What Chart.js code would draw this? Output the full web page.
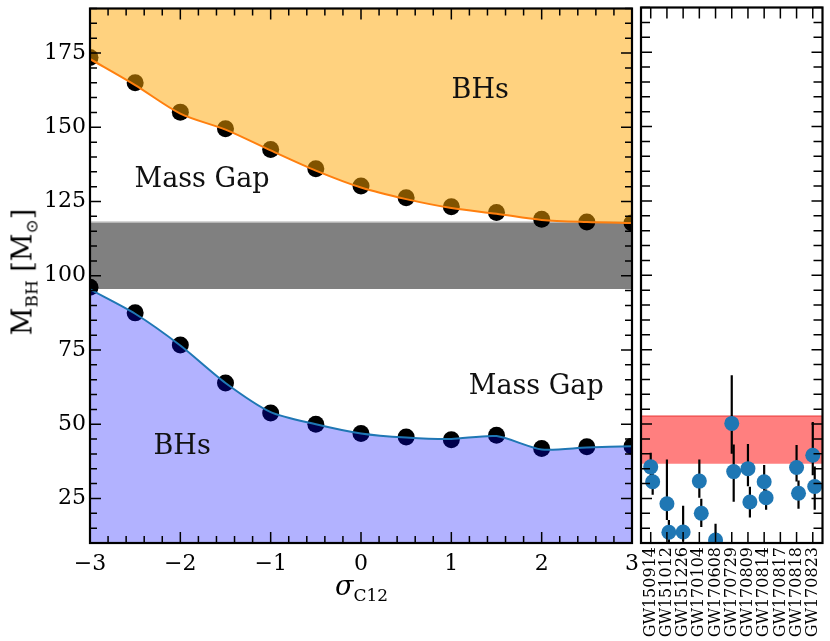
<!DOCTYPE html>
<html>
<head>
<meta charset="utf-8">
<script src="https://cdn.jsdelivr.net/npm/chart.js@4.4.1/dist/chart.umd.min.js"></script>
<style>
  html, body { margin: 0; padding: 0; background: #fff; }
  #wrap { position: relative; width: 830px; height: 641px; overflow: hidden; font-family: 'DejaVu Serif', serif; }
  .box { position: absolute; top: 0; height: 641px; }
  #leftBox { left: 0; width: 641px; }
  #rightBox { left: 632px; width: 198px; }
  .xtitle { position: absolute; left: 335px; top: 572px; font: italic 27px 'DejaVu Serif', serif; line-height: 1; white-space: nowrap; }
  .xtitle span { font-style: normal; font-size: 17px; position: relative; top: 6px; }
  .ytitle { position: absolute; left: 22px; top: 272px; font: 27px 'DejaVu Serif', serif; line-height: 1; white-space: nowrap;
            transform: translate(-50%, -50%) rotate(-90deg); }
  .ytitle sub { font-size: 17px; vertical-align: baseline; position: relative; top: 6px; }
</style>
</head>
<body>
<div id="wrap">
  <div class="box" id="leftBox"><canvas id="massChart"></canvas></div>
  <div class="box" id="rightBox"><canvas id="gwChart"></canvas></div>
  <div class="xtitle">σ<span>C12</span></div>
  <div class="ytitle">M<sub>BH</sub> [M<sub>⊙</sub>]</div>
</div>
<script>
// sigma_C12 grid and the edges of the mass gap
const sigma = [-3, -2.5, -2, -1.5, -1, -0.5, 0, 0.5, 1, 1.5, 2, 2.5, 3];
const upperMass = [173.5, 165.0, 155.1, 149.5, 142.5, 136.0, 130.2, 126.3, 123.2, 121.3, 119.0, 118.1, 117.8];
const upperFit  = [173.0, 164.2, 154.6, 149.2, 142.2, 135.4, 129.7, 125.8, 122.8, 120.9, 118.8, 118.1, 117.8];
const lowerMass = [96.1, 87.5, 76.7, 63.9, 53.8, 50.0, 46.9, 45.7, 44.8, 46.3, 41.8, 42.4, 42.6];
const lowerFit  = [95.4, 87.2, 76.5, 63.9, 54.1, 50.0, 46.9, 45.5, 45.0, 46.0, 41.5, 42.2, 42.6];
const gapBand = [95.5, 118.1];
const sigmaRange = [-3, 3];
const massRange = [10, 190];

// region labels (text, sigma, mass at baseline)
const noteText = ['BHs', 'Mass Gap', 'Mass Gap', 'BHs'];
const noteX = [1.32, -1.76, 1.94, -1.98];
const noteY = [159.8, 129.9, 60.3, 39.9];

// LIGO/Virgo O1+O2 events
const events = ['GW150914', 'GW151012', 'GW151226', 'GW170104', 'GW170608', 'GW170729',
                'GW170809', 'GW170814', 'GW170817', 'GW170818', 'GW170823'];
const m1      = [35.6, 23.2, 13.7, 30.8, 11.0, 50.2, 35.0, 30.6, 1.46, 35.4, 39.5];
const m1Plus  = [4.7, 14.9, 8.8, 7.3, 5.5, 16.2, 8.3, 5.6, 0.12, 7.5, 11.2];
const m1Minus = [3.1, 5.5, 3.2, 5.6, 1.7, 10.2, 5.9, 3.0, 0.10, 4.7, 6.7];
const m2      = [30.6, 13.6, 7.7, 20.0, 7.6, 34.0, 23.8, 25.2, 1.27, 26.7, 29.0];
const m2Plus  = [3.0, 4.1, 2.2, 4.9, 1.4, 9.1, 5.1, 2.8, 0.09, 4.3, 6.7];
const m2Minus = [4.4, 4.8, 2.5, 4.6, 2.2, 10.1, 5.2, 4.0, 0.09, 5.2, 7.8];
const m2Shift = 0.12;
const ligoBand = [36.6, 52.7];
const eventRange = [-0.6, 10.6];

Chart.defaults.font.family = "'DejaVu Serif', serif";
Chart.defaults.color = '#000';

const xy = (xs, ys) => xs.map((x, i) => ({ x: x, y: ys[i] }));

function errorBars(vals, plus, minus, shift) {
    const out = [];
    vals.forEach((v, i) => {
        out.push({ x: i + shift, y: v - minus[i] }, { x: i + shift, y: v + plus[i] }, { x: i + shift, y: null });
    });
    return out;
}

// inward ticks on all four sides plus the black frame
const frameTicks = {
    id: 'frameTicks',
    afterDraw(chart, args, o) {
        const { ctx, chartArea: a, scales: { x, y } } = chart;
        ctx.save();
        ctx.strokeStyle = '#000';
        ctx.lineWidth = 1.5;
        ctx.beginPath();
        for (let k = Math.ceil(x.min / o.xMinor - 1e-9); k * o.xMinor <= x.max + 1e-9; k++) {
            const v = k * o.xMinor;
            const major = Math.abs(v / o.xMajor - Math.round(v / o.xMajor)) < 1e-6;
            const len = major ? o.majorLen : o.minorLen;
            const px = x.getPixelForValue(v);
            ctx.moveTo(px, a.bottom); ctx.lineTo(px, a.bottom - len);
            ctx.moveTo(px, a.top); ctx.lineTo(px, a.top + len);
        }
        for (let k = Math.ceil(y.min / o.yMinor - 1e-9); k * o.yMinor <= y.max + 1e-9; k++) {
            const v = k * o.yMinor;
            const major = Math.abs(v / o.yMajor - Math.round(v / o.yMajor)) < 1e-6;
            const len = major ? o.majorLen : o.minorLen;
            const py = y.getPixelForValue(v);
            ctx.moveTo(a.left, py); ctx.lineTo(a.left + len, py);
            ctx.moveTo(a.right, py); ctx.lineTo(a.right - len, py);
        }
        ctx.stroke();
        ctx.lineWidth = 2.2;
        ctx.strokeRect(a.left, a.top, a.width, a.height);
        ctx.restore();
    }
};

const regionNotes = {
    id: 'regionNotes',
    afterDatasetsDraw(chart, args, o) {
        if (!o.text) return;
        const { ctx, scales: { x, y } } = chart;
        ctx.save();
        ctx.font = "27px 'DejaVu Serif', serif";
        ctx.fillStyle = '#111';
        ctx.textAlign = 'center';
        ctx.textBaseline = 'alphabetic';
        o.text.forEach((t, i) => ctx.fillText(t, x.getPixelForValue(o.x[i]), y.getPixelForValue(o.y[i])));
        ctx.restore();
    }
};

const tickFont = { size: 22 };

// keep the plot area exactly where the reference has it
const noEdgePad = s => { s.paddingLeft = 0; s.paddingRight = 0; s.paddingTop = 0; s.paddingBottom = 0; };

new Chart(document.getElementById('massChart'), {
    type: 'line',
    data: {
        datasets: [
            { data: xy(sigmaRange, [gapBand[0], gapBand[0]]), borderWidth: 0, pointRadius: 0, fill: false, order: 6 },
            { data: xy(sigmaRange, [gapBand[1], gapBand[1]]), borderColor: '#c8c8c8', borderWidth: 1.5, pointRadius: 0,
              backgroundColor: '#808080', fill: '-1', order: 5 },
            { data: xy(sigma, upperMass), showLine: false, pointRadius: 8.5, pointBackgroundColor: '#000',
              pointBorderWidth: 0, order: 4 },
            { data: xy(sigma, lowerMass), showLine: false, pointRadius: 8.5, pointBackgroundColor: '#000',
              pointBorderWidth: 0, order: 4 },
            { data: xy(sigma, upperFit), borderColor: '#ff7f0e', borderWidth: 2, pointRadius: 0, tension: 0.3,
              backgroundColor: 'rgba(255,165,0,0.5)', fill: 'end', order: 1 },
            { data: xy(sigma, lowerFit), borderColor: '#1f77b4', borderWidth: 2, pointRadius: 0, tension: 0.25,
              backgroundColor: 'rgba(0,0,255,0.3)', fill: 'start', order: 1 }
        ].map(d => Object.assign({ clip: 0 }, d))
    },
    options: {
        responsive: true,
        maintainAspectRatio: false,
        animation: false,
        layout: { padding: { top: 7, right: 9, left: 0, bottom: 0 } },
        plugins: {
            legend: { display: false },
            tooltip: { enabled: false },
            frameTicks: { xMinor: 0.2, xMajor: 1, yMinor: 5, yMajor: 25, majorLen: 11, minorLen: 7 },
            regionNotes: { text: noteText, x: noteX, y: noteY }
        },
        scales: {
            x: {
                type: 'linear', min: sigmaRange[0], max: sigmaRange[1],
                grid: { display: false, drawTicks: false }, border: { display: false },
                ticks: { stepSize: 1, padding: 8, font: tickFont,
                         callback: v => v < 0 ? '\u2212' + (-v) : String(v) },
                afterFit: s => { s.height = 98; noEdgePad(s); }
            },
            y: {
                type: 'linear', min: massRange[0], max: massRange[1],
                grid: { display: false, drawTicks: false }, border: { display: false },
                ticks: { stepSize: 25, includeBounds: false, padding: 4, font: tickFont },
                afterFit: s => { s.width = 90; noEdgePad(s); }
            }
        }
    },
    plugins: [frameTicks, regionNotes]
});

const idx = events.map((e, i) => i);
const idx2 = events.map((e, i) => i + m2Shift);

new Chart(document.getElementById('gwChart'), {
    type: 'line',
    data: {
        datasets: [
            { data: xy(eventRange, [ligoBand[0], ligoBand[0]]), borderWidth: 0, pointRadius: 0, fill: false, order: 9 },
            { data: xy(eventRange, [ligoBand[1], ligoBand[1]]), borderColor: 'rgba(230,40,40,0.6)', borderWidth: 1.5,
              pointRadius: 0, backgroundColor: 'rgba(255,0,0,0.5)', fill: '-1', order: 8 },
            { data: errorBars(m1, m1Plus, m1Minus, 0), borderColor: '#000', borderWidth: 2.2, pointRadius: 0,
              spanGaps: false, order: 7 },
            { data: errorBars(m2, m2Plus, m2Minus, m2Shift), borderColor: '#000', borderWidth: 2.2, pointRadius: 0,
              spanGaps: false, order: 7 },
            { data: xy(idx, m1), showLine: false, pointRadius: 7.5, pointBackgroundColor: '#1f77b4',
              pointBorderWidth: 0, order: 2 },
            { data: xy(idx2, m2), showLine: false, pointRadius: 7.5, pointBackgroundColor: '#1f77b4',
              pointBorderWidth: 0, order: 2 }
        ].map(d => Object.assign({ clip: 0 }, d))
    },
    options: {
        responsive: true,
        maintainAspectRatio: false,
        animation: false,
        layout: { padding: { top: 7, right: 7, left: 9, bottom: 0 } },
        plugins: {
            legend: { display: false },
            tooltip: { enabled: false },
            frameTicks: { xMinor: 1, xMajor: 1, yMinor: 5, yMajor: 25, majorLen: 11, minorLen: 9 }
        },
        scales: {
            x: {
                type: 'linear', min: eventRange[0], max: eventRange[1],
                grid: { display: false, drawTicks: false }, border: { display: false },
                ticks: { stepSize: 1, includeBounds: false, autoSkip: false, minRotation: 90, maxRotation: 90,
                         padding: 4, font: { size: 16 },
                         callback: v => Number.isInteger(v) && events[v] ? events[v] : '' },
                afterFit: s => { s.height = 98; noEdgePad(s); }
            },
            y: {
                type: 'linear', min: massRange[0], max: massRange[1], display: false
            }
        }
    },
    plugins: [frameTicks]
});
</script>
</body>
</html>
